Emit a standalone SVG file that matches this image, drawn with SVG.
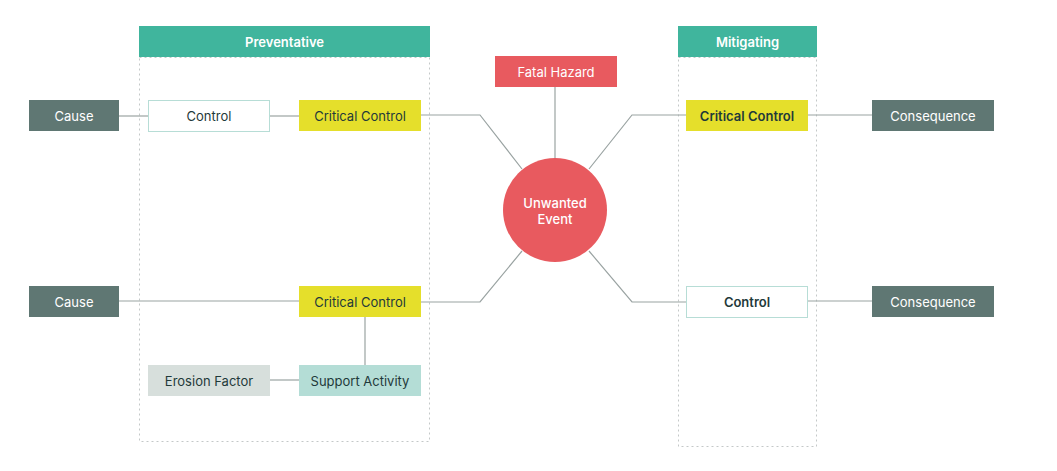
<svg xmlns="http://www.w3.org/2000/svg" width="1057" height="471" viewBox="0 0 1057 471">
<style>
text{font-family:Inter,"Liberation Sans",sans-serif;font-size:13px;text-anchor:middle;dominant-baseline:central}
.hdr{fill:#40b59d}
.hdrt{fill:#fff;font-weight:600}
.zone{fill:none;stroke:#c4c8c8;stroke-width:1;stroke-dasharray:2,3}
.cause{fill:#5f7773}
.wt{fill:#fff}
.dt{fill:#1f3a3a}
.crit{fill:#e5df2b}
.ctrl{fill:#fff;stroke:#b7ddd6;stroke-width:1}
.red{fill:#e85a5f}
.sup{fill:#b4ddd6}
.ero{fill:#d7dfdc}
.conn line,.conn polyline{stroke:#9aa3a2;stroke-width:1.2;fill:none}
</style>
<rect width="1057" height="471" fill="#fff"/>
<g id="preventative">
<rect class="zone" x="139.5" y="57.5" width="290" height="384"/>
<rect class="hdr" x="139" y="26" width="291" height="31"/>
<text class="hdrt" x="284.5" y="41.5">Preventative</text>
</g>
<g id="mitigating">
<rect class="zone" x="678.5" y="57.5" width="138" height="389"/>
<rect class="hdr" x="678" y="26" width="139" height="31"/>
<text class="hdrt" x="747.5" y="41.5">Mitigating</text>
</g>
<g class="conn" id="connectors">
<line x1="118" y1="116" x2="148" y2="116"/>
<line x1="269" y1="116" x2="299" y2="116"/>
<polyline points="420,115 480,115 522,169"/>
<line x1="555" y1="87" x2="555" y2="158"/>
<polyline points="589,169 632,115 686,115"/>
<line x1="807" y1="115" x2="872" y2="115"/>
<line x1="118" y1="301" x2="299" y2="301"/>
<polyline points="420,302 480,302 522,251"/>
<line x1="365" y1="317" x2="365" y2="365"/>
<line x1="269" y1="380" x2="299" y2="380"/>
<polyline points="589,251 632,302 686,302"/>
<line x1="807" y1="301" x2="872" y2="301"/>
</g>
<g id="cause1"><rect class="cause" x="29" y="100" width="90" height="31"/><text class="wt" x="74" y="116">Cause</text></g>
<g id="control1"><rect class="ctrl" x="148.5" y="100.5" width="121" height="31"/><text class="dt" x="209" y="116">Control</text></g>
<g id="critical1"><rect class="crit" x="299" y="100" width="122" height="31"/><text class="dt" x="360" y="116">Critical Control</text></g>
<g id="cause2"><rect class="cause" x="29" y="286" width="90" height="31"/><text class="wt" x="74" y="301.5">Cause</text></g>
<g id="critical2"><rect class="crit" x="299" y="286" width="122" height="31"/><text class="dt" x="360" y="301.5">Critical Control</text></g>
<g id="erosion"><rect class="ero" x="148" y="365" width="122" height="31"/><text class="dt" x="209" y="380.5">Erosion Factor</text></g>
<g id="support"><rect class="sup" x="299" y="365" width="122" height="31"/><text class="dt" x="360" y="380.5">Support Activity</text></g>
<g id="hazard"><rect class="red" x="495" y="56" width="122" height="31"/><text class="wt" x="556" y="72">Fatal Hazard</text></g>
<g id="event"><circle class="red" cx="555" cy="210" r="52"/><text class="wt" font-weight="500" x="555" y="202.5">Unwanted</text><text class="wt" font-weight="500" x="555" y="218.5">Event</text></g>
<g id="critical3"><rect class="crit" x="686" y="100" width="122" height="31"/><text class="dt" font-weight="600" x="747" y="116">Critical Control</text></g>
<g id="consequence1"><rect class="cause" x="872" y="100" width="122" height="31"/><text class="wt" x="933" y="116">Consequence</text></g>
<g id="control2"><rect class="ctrl" x="686.5" y="286.5" width="121" height="31"/><text class="dt" font-weight="600" x="747" y="301.5">Control</text></g>
<g id="consequence2"><rect class="cause" x="872" y="286" width="122" height="31"/><text class="wt" x="933" y="301.5">Consequence</text></g>
</svg>
